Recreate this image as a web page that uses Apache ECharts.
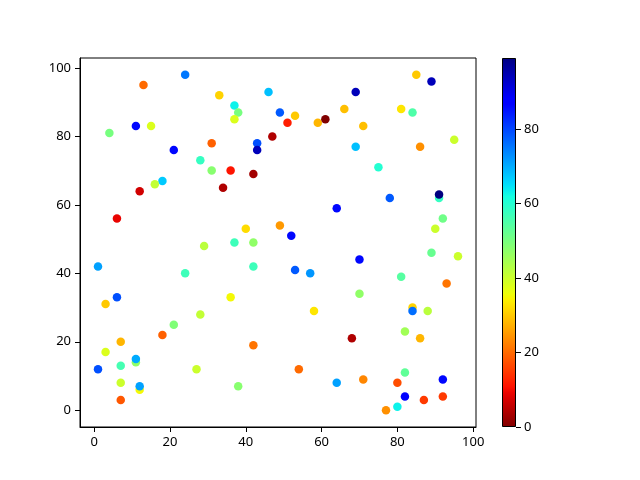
<!DOCTYPE html>
<html>
<head>
<meta charset="utf-8">
<script src="https://cdn.jsdelivr.net/npm/echarts@6/dist/echarts.min.js"></script>
<style>html,body{margin:0;padding:0;background:#fff}#c{width:640px;height:480px}</style>
</head>
<body>
<div id="c"></div>
<script>
// Point data (x, y, colour value)
var xs = [24,13,33,46,37,38,37,49,53,51,59,61,66,47,43,43,36,42,34,85,
          89,69,81,84,71,69,86,95,75,11,15,4,21,31,28,31,18,16,12,6,
          29,1,24,6,3,64,40,49,52,37,42,42,53,57,36,78,91,91,92,90,
          70,89,96,81,93,70,84,84,28,21,18,7,3,11,11,7,1,27,7,12,
          12,7,58,42,68,54,38,64,88,82,86,82,92,71,80,82,87,92,80,77];
var ys = [98,95,92,93,89,87,85,87,86,84,84,85,88,80,78,76,70,69,65,98,
          96,93,88,87,83,77,77,79,71,83,83,81,76,78,73,70,67,66,64,56,
          48,42,40,33,31,59,53,54,51,49,49,42,41,40,33,62,62,63,56,53,
          44,46,45,39,37,34,30,29,28,25,22,20,17,14,15,13,12,12,8,6,
          7,3,29,19,21,12,7,8,29,23,21,11,9,9,8,4,3,4,1,0];
var cs = [75,20,31,68,63,50,38,78,30,12,28,0,29,4,79,94,11,3,4,30,
          94,94,33,55,29,68,24,40,60,86,38,50,86,19,58,48,67,41,7,9,
          42,71,57,79,30,86,32,25,86,57,47,57,78,72,35,78,58,99,51,40,
          86,52,40,54,21,47,31,76,41,49,19,28,38,47,70,56,79,40,40,35,
          71,18,33,21,4,20,48,71,42,45,28,53,86,23,17,87,15,15,63,24];
var xTicks = [0,20,40,60,80,100];
var yTicks = [0,20,40,60,80,100];
var cTicks = [0,20,40,60,80];
var cMin = 0, cMax = 99;

function jet(t){
  function clamp(v){return Math.max(0,Math.min(1,v));}
  function interp(pts){
    for (var i=0;i<pts.length-1;i++){
      if (t>=pts[i][0] && t<=pts[i+1][0]){
        var a=pts[i],b=pts[i+1];
        return a[1]+(b[1]-a[1])*(t-a[0])/(b[0]-a[0]);
      }
    }
    return pts[pts.length-1][1];
  }
  var r=interp([[0,0],[0.35,0],[0.66,1],[0.89,1],[1,0.5]]);
  var g=interp([[0,0],[0.125,0],[0.375,1],[0.64,1],[0.91,0],[1,0]]);
  var b=interp([[0,0.5],[0.11,1],[0.34,1],[0.65,0],[1,0]]);
  return 'rgb('+Math.round(clamp(r)*255)+','+Math.round(clamp(g)*255)+','+Math.round(clamp(b)*255)+')';
}
var N=64, jetR=[], stops=[];
for (var i=0;i<=N;i++){
  var c=jet(1-i/N);
  jetR.push(c);
  stops.push({offset:i/N,color:c});
}

var pts = xs.map(function(x,i){return [x, ys[i], cs[i]];});
var font = {fontFamily:'Noto Sans', fontSize:13, color:'#000'};

var chart = echarts.init(document.getElementById('c'), null, {renderer:'canvas'});
chart.setOption({
  animation:false,
  backgroundColor:'#fff',
  grid:[
    {left:80, top:58, width:396, height:369, show:true, borderColor:'#000', borderWidth:1, backgroundColor:'transparent'},
    {left:502, top:58, width:14, height:369, show:false}
  ],
  xAxis:[
    {type:'value', gridIndex:0, min:-3.75, max:100.75,
     axisLine:{show:true, onZero:false, lineStyle:{color:'#000', width:1}},
     axisTick:{show:true, length:5, lineStyle:{color:'#000'}, customValues:xTicks},
     axisLabel:Object.assign({margin:9, customValues:xTicks}, font),
     splitLine:{show:false}},
    {type:'category', gridIndex:1, data:[''], show:false}
  ],
  yAxis:[
    {type:'value', gridIndex:0, min:-4.9, max:102.9,
     axisLine:{show:true, onZero:false, lineStyle:{color:'#000', width:1}},
     axisTick:{show:true, length:5, lineStyle:{color:'#000'}, customValues:yTicks},
     axisLabel:Object.assign({margin:9, customValues:yTicks}, font),
     splitLine:{show:false}},
    {type:'value', gridIndex:1, min:cMin, max:cMax, position:'right',
     axisLine:{show:false},
     axisTick:{show:true, length:5, lineStyle:{color:'#000'}, customValues:cTicks},
     axisLabel:Object.assign({margin:8, customValues:cTicks}, font),
     splitLine:{show:false}}
  ],
  visualMap:{type:'continuous', show:false, min:cMin, max:cMax, dimension:2, seriesIndex:0,
             inRange:{color:jetR}},
  series:[
    {type:'scatter', xAxisIndex:0, yAxisIndex:0, data:pts, symbolSize:8.5,
     itemStyle:{opacity:1}},
    {type:'bar', xAxisIndex:1, yAxisIndex:1, data:[cMax], barWidth:'100%',
     itemStyle:{borderColor:'#000', borderWidth:1,
       color:new echarts.graphic.LinearGradient(0,1,0,0,stops)}}
  ]
});
</script>
</body>
</html>
